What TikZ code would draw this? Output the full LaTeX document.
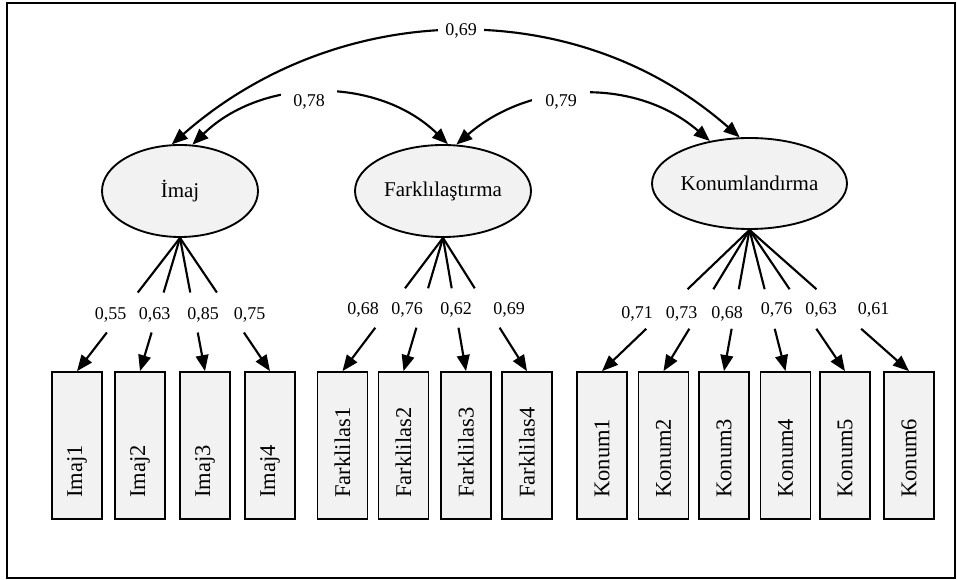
\documentclass[tikz,border=0pt]{standalone}
\usepackage{fontspec}
\setmainfont{Liberation Serif}
\usetikzlibrary{arrows.meta,shapes.geometric,calc}
\definecolor{boxfill}{HTML}{F2F2F2}
\begin{document}
\begin{tikzpicture}[x=0.75pt,y=-0.75pt,
  lat/.style={ellipse,draw,line width=1.4pt,fill=boxfill,inner sep=0pt,font=\fontsize{15.75}{18}\selectfont},
  obs/.style={rectangle,draw,line width=1.3pt,fill=boxfill,minimum width=37.5pt,minimum height=110.25pt,inner sep=0pt},
  obstext/.style={rotate=90,anchor=west,inner sep=0pt,font=\fontsize{16.9}{20}\selectfont},
  num/.style={font=\fontsize{13.5}{16}\selectfont,inner sep=0pt},
  covlab/.style={fill=white,font=\fontsize{13.5}{16}\selectfont,inner ysep=7pt},
  tip/.tip={Triangle[length=12pt,width=9.5pt]},
  cov/.style={line width=1.6pt,tip-tip},
  load/.style={line width=1.6pt},
  loadarr/.style={line width=1.6pt,-tip}
]
\useasboundingbox (0,0) rectangle (957,580);
\draw[line width=1.5pt] (7,3) rectangle (955,578.5);

% latent variables
\node[lat,minimum width=117pt,minimum height=69pt] (imaj) at (180,191) {İmaj};
\node[lat,minimum width=132pt,minimum height=69pt] (farkl) at (443,191) {Farklılaştırma};
\node[lat,minimum width=146.25pt,minimum height=68.25pt] (konum) at (749.5,183.5) {Konumlandırma};

% observed variables
\foreach \n/\x/\t in {i1/77/Imaj1,i2/140/Imaj2,i3/205/Imaj3,i4/270/Imaj4,
  f1/342.5/Farklilas1,f2/403.5/Farklilas2,f3/466/Farklilas3,f4/527/Farklilas4,
  k1/602/Konum1,k2/663.5/Konum2,k3/724/Konum3,k4/785.5/Konum4,k5/845/Konum5,k6/909/Konum6}{
  \node[obs] (\n) at (\x,445.5) {};
  \node[obstext] (\n t) at (\x,498) {\t};
}

% loadings
\foreach \b in {i1,i2,i3,i4}{
  \draw[load] (imaj.south) -- ($(imaj.south)!0.41!(\b.north)$);
  \draw[loadarr] ($(imaj.south)!0.71!(\b.north)$) -- (\b.north);
}
\foreach \b in {f1,f2,f3,f4}{
  \draw[load] (farkl.south) -- ($(farkl.south)!0.378!(\b.north)$);
  \draw[loadarr] ($(farkl.south)!0.674!(\b.north)$) -- (\b.north);
}
\foreach \b in {k1,k2,k3,k4,k5,k6}{
  \draw[load] (konum.south) -- ($(konum.south)!0.42!(\b.north)$);
  \draw[loadarr] ($(konum.south)!0.70!(\b.north)$) -- (\b.north);
}

% loading labels
\node[num] (li1) at (110.5,315) {0,55};
\node[num] (li2) at (154.5,315) {0,63};
\node[num] (li3) at (203,315) {0,85};
\node[num] (li4) at (249.5,315) {0,75};
\node[num] (lf1) at (363,310) {0,68};
\node[num] (lf2) at (407,310) {0,76};
\node[num] (lf3) at (456,310) {0,62};
\node[num] (lf4) at (509,310) {0,69};
\node[num] (lk1) at (637,314) {0,71};
\node[num] (lk2) at (681.5,314) {0,73};
\node[num] (lk3) at (727,314) {0,68};
\node[num] (lk4) at (776.5,310) {0,76};
\node[num] (lk5) at (821,310) {0,63};
\node[num] (lk6) at (873.5,310) {0,61};

% covariances
\draw[cov] (imaj.100) .. controls +(165,-145) and +(-165,-145) .. (konum.102);
\draw[cov] (imaj.75) .. controls +(70,-68) and +(-70,-68) .. (farkl.84);
\draw[cov] (farkl.74) .. controls +(74,-64) and +(-74,-64) .. (konum.133);
\node[covlab,inner xsep=5.6pt] (c69) at (461,31) {0,69};
\node[covlab,inner xsep=9.5pt] (c78) at (309,102) {0,78};
\node[covlab,inner xsep=9.8pt] (c79) at (561,102) {0,79};
\end{tikzpicture}
\end{document}
